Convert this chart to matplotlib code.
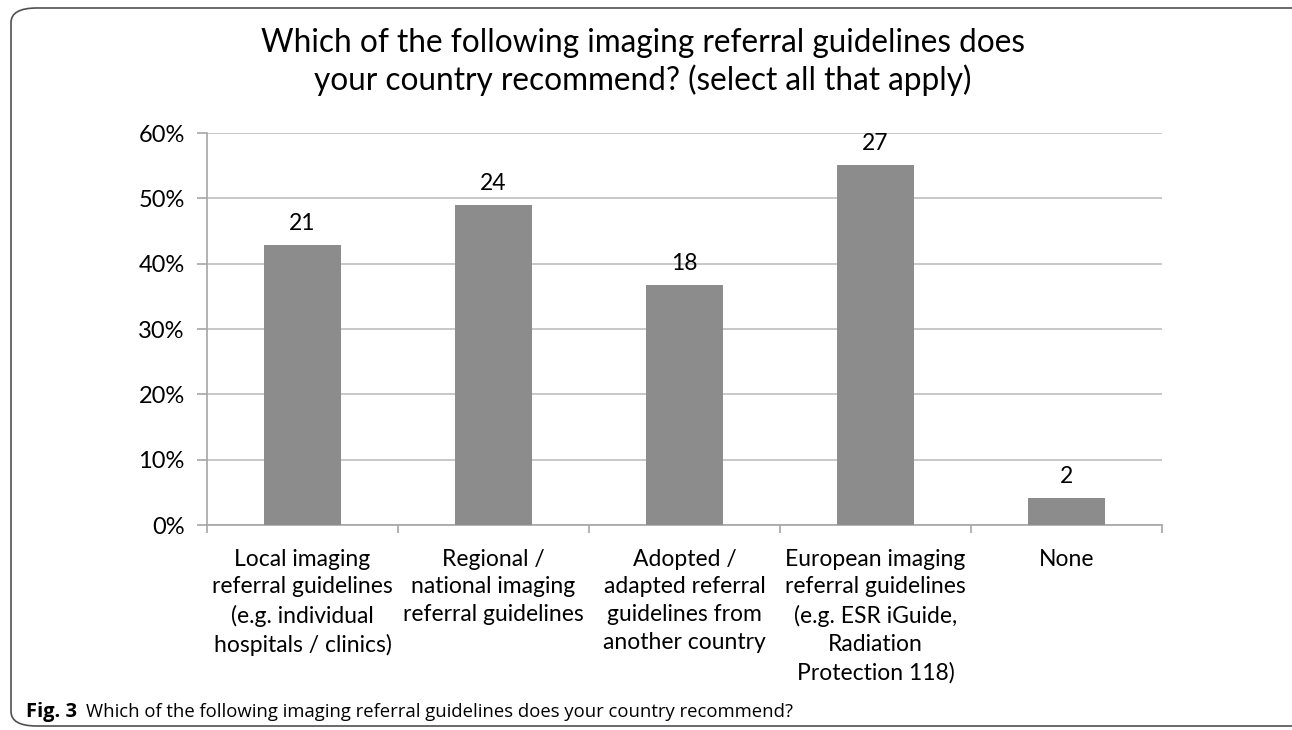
#!/usr/bin/env python
# -*- coding: utf-8 -*-

"""
Imaging referral guidelines recommended by country (survey, n = 49).
"""

# Third party modules.
import matplotlib
matplotlib.use("Agg")
import matplotlib.pyplot as plt
from matplotlib.patches import FancyBboxPatch
from matplotlib.ticker import PercentFormatter

# Globals and constants variables.
categories = [
    "Local imaging\nreferral guidelines\n(e.g. individual\nhospitals / clinics)",
    "Regional /\nnational imaging\nreferral guidelines",
    "Adopted /\nadapted referral\nguidelines from\nanother country",
    "European imaging\nreferral guidelines\n(e.g. ESR iGuide,\nRadiation\nProtection 118)",
    "None",
]
counts = [21, 24, 18, 27, 2]
respondents = 49
title = ("Which of the following imaging referral guidelines does\n"
         "your country recommend? (select all that apply)")
caption = "Which of the following imaging referral guidelines does your country recommend?"


def run():
    plt.rcParams['font.family'] = ['Lato', 'DejaVu Sans']
    fig = plt.figure(figsize=(12.92, 7.30), dpi=100)
    ax = fig.add_axes([0.1602, 0.2808, 0.7392, 0.5370])

    shares = [100.0 * c / respondents for c in counts]
    xs = list(range(len(categories)))
    ax.bar(xs, shares, width=0.4, color="#8c8c8c", zorder=3)
    for x, s, c in zip(xs, shares, counts):
        ax.annotate(str(c), (x, s), xytext=(0, 8), textcoords="offset points",
                    ha="center", va="bottom", fontsize=16.5)

    ax.set_xlim(-0.5, len(categories) - 0.5)
    ax.set_ylim(0, 60)
    ax.set_yticks(range(0, 61, 10))
    ax.yaxis.set_major_formatter(PercentFormatter(decimals=0))
    ax.grid(axis="y", color="#bfbfbf", linewidth=1.2, zorder=0)

    ax.set_xticks([x + 0.5 for x in range(-1, len(categories))])
    ax.set_xticklabels([])
    ax.set_xticks(xs, minor=True)
    ax.set_xticklabels(categories, minor=True, fontsize=16.5, linespacing=1.4)
    ax.tick_params(axis="x", which="minor", length=0, pad=17)
    ax.tick_params(axis="x", which="major", length=6, color="#a6a6a6", width=1.2)
    ax.tick_params(axis="y", length=7, color="#a6a6a6", width=1.2, labelsize=17, pad=9)

    for side in ("top", "right"):
        ax.spines[side].set_visible(False)
    for side in ("left", "bottom"):
        ax.spines[side].set_color("#a6a6a6")
        ax.spines[side].set_linewidth(1.2)

    fig.text(0.4973, 0.915, title, ha="center", va="center", fontsize=22.7,
             linespacing=1.25)

    frame = FancyBboxPatch((11 / 1292, 4 / 730), 1.2, 718 / 730,
                           boxstyle="round,pad=0,rounding_size=0.02",
                           transform=fig.transFigure, fill=False,
                           edgecolor="#505050", linewidth=1.2, clip_on=False)
    fig.patches.append(frame)

    fig.text(26 / 1292, 1 - 712 / 730, "Fig. 3", fontsize=14.5, fontweight="bold",
             ha="left", va="center", family=["Open Sans", "DejaVu Sans"])
    fig.text(86 / 1292, 1 - 712 / 730, caption, fontsize=13.3, ha="left",
             va="center", family=["Open Sans", "DejaVu Sans"])

    fig.savefig("out.png", dpi=100)


def main():
    run()


if __name__ == '__main__':  # pragma: no cover
    main()
